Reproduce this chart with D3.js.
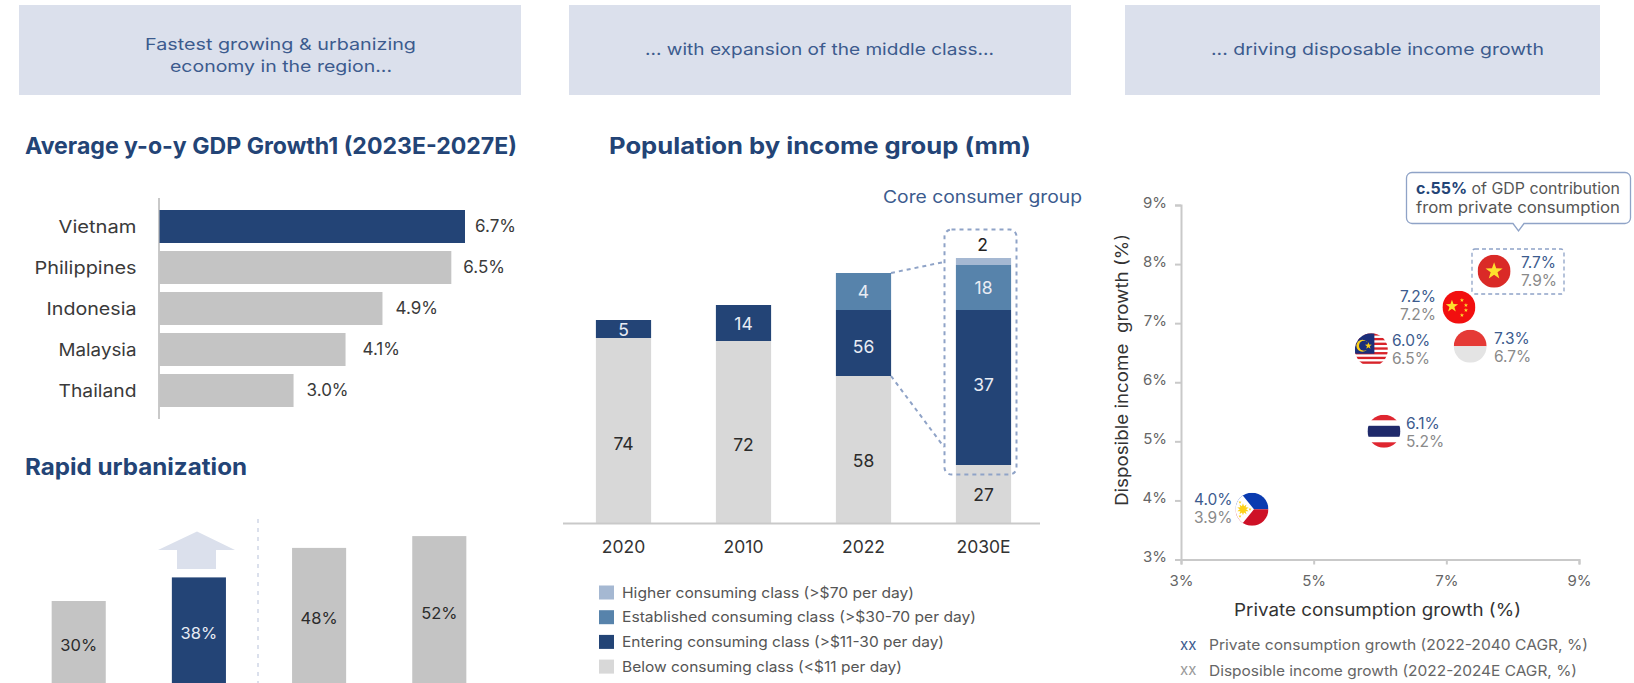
<!DOCTYPE html>
<html><head><meta charset="utf-8">
<script src="https://cdn.jsdelivr.net/npm/d3@7"></script>
<style>
html,body{margin:0;padding:0;background:#fff;overflow:hidden}
svg{display:block}
text{font-family:Inter,"Open Sans",sans-serif}
</style></head><body>
<svg id="c" width="1634" height="683"></svg>
<script>
// ---- data ----
const gdpCountries = ["Vietnam","Philippines","Indonesia","Malaysia","Thailand"];
const gdpLabels = ["6.7%","6.5%","4.9%","4.1%","3.0%"];
// bar lengths
const gdpValues = [6.7,6.4,4.89,4.08,2.94];
const urbanCategories = ["A","B","C","D"];
const urbanValues = [30,38,48,52];
const stackYears = ["2020","2010","2022","2030E"];
const stackKeys = ["below","entering","established","higher"];
const stackNames = ["Below consuming class (<$11 per day)","Entering consuming class (>$11-30 per day)","Established consuming class (>$30-70 per day)","Higher consuming class (>$70 per day)"];
// drawn heights (the source bars are not to scale with their labels)
const belowHeights = [74,72.8,58.8,23.2];
const enteringHeights = [7.2,14.4,26.4,62];
const establishedHeights = [0,0,14.8,18];
const higherHeights = [0,0,0,2.8];
const belowLabels = ["74","72","58","27"];
const enteringLabels = ["5","14","56","37"];
const establishedLabels = ["","","4","18"];
const countries = ["Vietnam","China","Malaysia","Indonesia","Thailand","Philippines"];
const consumptionLabels = ["7.7%","7.2%","6.0%","7.3%","6.1%","4.0%"];
const incomeLabels = ["7.9%","7.2%","6.5%","6.7%","5.2%","3.9%"];
const flagX = [7.72,7.19,5.87,7.36,6.06,4.07];
const flagY = [7.88,7.27,6.55,6.61,5.17,3.85];
const xTicks = [3,5,7,9];
const yTicks = [3,4,5,6,7,8,9];

// ---- styles / layout ----
const NAVY="#234476", GREY="#c4c4c4", LIGHT="#d8d8d8", MID="#5783ab", PALE="#a5b8d2", HDR="#dbe0ec",
      BLUE="#3c5b8e", DASH="#8fa3c7", AX="#c9c9c9", TXT="#3a3a3a";
const svg=d3.select("#c");
function T(x,y,s,o={}){
  const t=svg.append("text").attr("x",x).attr("y",y).attr("dy","0.35em").text(s)
    .attr("font-size",o.size||16).attr("fill",o.fill||TXT).attr("text-anchor",o.anchor||"start")
    .attr("font-weight",o.weight||400);
  if(o.w) t.attr("textLength",o.w).attr("lengthAdjust","spacingAndGlyphs");
  return t;
}
// headers
[[19,502],[569,502],[1125,475]].forEach(([x,w])=>svg.append("rect").attr("x",x).attr("y",5).attr("width",w).attr("height",90).attr("fill",HDR));
T(280.5,44,"Fastest growing & urbanizing",{anchor:"middle",fill:BLUE,size:16.5,w:271});
T(281,66,"economy in the region...",{anchor:"middle",fill:BLUE,size:16.5,w:222});
T(819.5,49,"... with expansion of the middle class...",{anchor:"middle",fill:BLUE,size:16.5,w:349});
T(1377.5,49,"... driving disposable income growth",{anchor:"middle",fill:BLUE,size:16.5,w:333});
// titles
T(25,145.5,"Average y-o-y GDP Growth1 (2023E-2027E)",{size:23,weight:700,fill:NAVY,w:492});
T(609,145.5,"Population by income group (mm)",{size:23,weight:700,fill:NAVY,w:422});
T(25,466.5,"Rapid urbanization",{size:23,weight:700,fill:NAVY,w:222});

// GDP bars
const gx=d3.scaleLinear().domain([0,6.7]).range([159.5,465]);
const gy=d3.scaleBand().domain(gdpCountries).range([206,411]).paddingInner(8/41).paddingOuter(4/41);
const nameWidths=[78,102,90,78,78];
const gaps=[10,12,13,17,13];
svg.append("line").attr("x1",159).attr("x2",159).attr("y1",198).attr("y2",419).attr("stroke",AX).attr("stroke-width",2);
gdpCountries.forEach((c,i)=>{
  svg.append("rect").attr("x",gx(0)).attr("y",gy(c)).attr("width",gx(gdpValues[i])-gx(0)).attr("height",gy.bandwidth()).attr("fill",i===0?NAVY:GREY);
  const yc=gy(c)+gy.bandwidth()/2;
  T(136.5,yc,c,{anchor:"end",size:17.5,w:nameWidths[i]});
  T(gx(gdpValues[i])+gaps[i],yc,gdpLabels[i],{size:17});
});

// Urbanization bars
const ux=d3.scaleBand().domain(urbanCategories).range([12,506]).paddingInner(0.55).paddingOuter(0.33);
const uy=d3.scaleLinear().domain([0,30]).range([689.5,601]);
urbanCategories.forEach((c,i)=>{
  const v=urbanValues[i];
  svg.append("rect").attr("x",ux(c)).attr("y",uy(v)).attr("width",ux.bandwidth()).attr("height",uy(0)-uy(v)).attr("fill",i===1?NAVY:GREY);
  T(ux(c)+ux.bandwidth()/2,(uy(v)+uy(0))/2,v+"%",{anchor:"middle",size:16.5,fill:i===1?"#e8ecf4":"#2b2b2b"});
});
svg.append("path").attr("d","M197,531.5L235,550H216V569H177V550H158Z").attr("fill",HDR);
svg.append("line").attr("x1",258).attr("x2",258).attr("y1",519).attr("y2",683).attr("stroke",HDR).attr("stroke-width",2).attr("stroke-dasharray","4 5");

// Stacked bars
const sx=d3.scaleBand().domain(stackYears).range([563.5,1043.5]).paddingInner(0.54).paddingOuter(0.27);
const sy=d3.scaleLinear().domain([0,100]).range([523,273]);
const stackRows=stackYears.map((y,i)=>({year:y,below:belowHeights[i],entering:enteringHeights[i],established:establishedHeights[i],higher:higherHeights[i]}));
const stackColors=d3.scaleOrdinal().domain(stackKeys).range([LIGHT,NAVY,MID,PALE]);
const layers=d3.stack().keys(stackKeys)(stackRows);
layers.forEach(l=>{
  svg.append("g").selectAll("rect").data(l).join("rect")
    .attr("x",d=>sx(d.data.year)).attr("width",sx.bandwidth())
    .attr("y",d=>sy(d[1])).attr("height",d=>sy(d[0])-sy(d[1])).attr("fill",stackColors(l.key));
});
const labelSets=[[belowLabels,[13,13,11,1],"#2b2b2b"],[enteringLabels,[1,1,4,-3],"#e8ecf4"],[establishedLabels,[0,0,0,0],"#e8ecf4"]];
labelSets.forEach(([labs,dy,fill],k)=>{
  layers[k].forEach((d,i)=>{ if(labs[i]) T(sx(d.data.year)+sx.bandwidth()/2,(sy(d[0])+sy(d[1]))/2+dy[i],labs[i],{anchor:"middle",size:17.5,fill}); });
});
T(982.5,245,"2",{anchor:"middle",size:17.5,fill:"#222"});
const sAxis=svg.append("g").attr("transform","translate(0,523)").call(d3.axisBottom(sx).tickSize(0).tickPadding(18));
sAxis.select(".domain").remove();
svg.append("line").attr("x1",563).attr("x2",1040).attr("y1",523.5).attr("y2",523.5).attr("stroke",AX).attr("stroke-width",2);
sAxis.selectAll("text").attr("font-size",17.5).attr("fill","#333").style("font-family","Inter");
T(883,197,"Core consumer group",{size:17,fill:BLUE,w:199});
svg.append("rect").attr("x",944.5).attr("y",229.5).attr("width",72).attr("height",245).attr("rx",7).attr("fill","none").attr("stroke",DASH).attr("stroke-width",2).attr("stroke-dasharray","4 4");
svg.append("line").attr("x1",891).attr("y1",273).attr("x2",944).attr("y2",262).attr("stroke",DASH).attr("stroke-width",2).attr("stroke-dasharray","4 4");
svg.append("line").attr("x1",891).attr("y1",376).attr("x2",944).attr("y2",447).attr("stroke",DASH).attr("stroke-width",2).attr("stroke-dasharray","4 4");
// stack legend
[3,2,1,0].forEach((k,i)=>{
  const y=592.5+i*24.7;
  svg.append("rect").attr("x",599).attr("y",y-7).attr("width",15).attr("height",14).attr("fill",stackColors(stackKeys[k]));
  T(622,y,stackNames[k],{size:14.5,fill:"#555",w:[292,354,322,280][i]});
});

// Scatter
const px=d3.scaleLinear().domain([3,9]).range([1181,1579]);
const py=d3.scaleLinear().domain([3,9]).range([559.5,205]);
const fmt=d=>d+"%";
const xa=svg.append("g").attr("transform","translate(0,559.5)").call(d3.axisBottom(px).tickValues(xTicks).tickFormat(fmt).tickSize(5).tickPadding(11));
const ya=svg.append("g").attr("transform","translate(1181,0)").call(d3.axisLeft(py).tickValues(yTicks).tickFormat(fmt).tickSize(6).tickPadding(8));
[xa,ya].forEach(a=>{
  a.select(".domain").attr("stroke",AX).attr("stroke-width",2);
  a.selectAll(".tick line").attr("stroke",AX).attr("stroke-width",2);
  a.selectAll("text").attr("font-size",15).attr("fill","#666").style("font-family","Inter");
});
ya.selectAll("text").attr("dy","0.15em");
T(1377.5,610,"Private consumption growth (%)",{anchor:"middle",size:17,fill:"#333",w:287});
T(0,0,"Disposible income  growth (%)",{anchor:"middle",size:17,fill:"#333",w:272}).attr("transform","translate(1122,370) rotate(-90)").style("white-space","pre");

// flags
const defs=svg.append("defs");
const R=16.5;
function star(cx,cy,r,fill,g,rot=0){
  const pts=d3.range(10).map(i=>{const a=-Math.PI/2+i*Math.PI/5+rot,q=i%2?r*0.4:r;return [cx+q*Math.cos(a),cy+q*Math.sin(a)];});
  g.append("polygon").attr("points",pts.map(p=>p.join(",")).join(" ")).attr("fill",fill);
}
function band(g,y,h,fill,x=-R,w=2*R){g.append("rect").attr("x",x).attr("y",y).attr("width",w).attr("height",h).attr("fill",fill);}
const flagDraw={
  Vietnam(g){band(g,-R,2*R,"#da2a27");star(0,0,9,"#fde12d",g);},
  China(g){band(g,-R,2*R,"#f20f0f");star(-7,-1,6.5,"#fde12d",g);[[3,-7],[7,-2],[7,3],[3,8]].forEach(p=>star(p[0],p[1],2.2,"#fde12d",g));},
  Malaysia(g){band(g,-R,2*R,"#fff");d3.range(7).forEach(i=>band(g,-R+i*4.7,2.35,"#d8232a"));band(g,-R,R+4,"#1c2f7a",-R,R+3);
    g.append("circle").attr("cx",-9).attr("cy",-4).attr("r",6).attr("fill","#fdd017");g.append("circle").attr("cx",-7.4).attr("cy",-4).attr("r",5).attr("fill","#1c2f7a");star(-3,-4,3.6,"#fdd017",g);},
  Indonesia(g){band(g,-R,R,"#e53a36");band(g,0,R,"#e4e4e4");},
  Thailand(g){band(g,-R,2*R,"#fff");band(g,-R,5.5,"#df2630");band(g,R-5.5,5.5,"#df2630");band(g,-5.5,11,"#1f2a6b");},
  Philippines(g){band(g,-R,R,"#0a3bb0");band(g,0,R,"#ce1126");g.append("path").attr("d","M-17,-16.5L-11,-16L2,0L-11,16L-17,16.5Z").attr("fill","#fff");
    star(-9,0,6,"#fcd116",g);star(-9,0,6,"#fcd116",g,Math.PI/5);[[-12,-7],[-12,7],[-2,0]].forEach(p=>star(p[0],p[1],1.6,"#fcd116",g));}
};
const labX=[1521,1436,1392,1494,1406,1194];
const labY=[263,297,341,339,424,500];
const labAnchor=["start","end","start","start","start","start"];
countries.forEach((c,i)=>{
  const cx=px(flagX[i]),cy=py(flagY[i]);
  defs.append("clipPath").attr("id","cp"+i).append("circle").attr("r",R);
  const g=svg.append("g").attr("transform",`translate(${cx},${cy})`).attr("clip-path",`url(#cp${i})`);
  flagDraw[c](g);
  T(labX[i],labY[i],consumptionLabels[i],{size:15.5,fill:BLUE,anchor:labAnchor[i]});
  T(labX[i],labY[i]+18,incomeLabels[i],{size:15.5,fill:"#8a8a8a",anchor:labAnchor[i]});
});
// Vietnam dashed box and callout
svg.append("rect").attr("x",1472).attr("y",249).attr("width",92).attr("height",45).attr("rx",3).attr("fill","none").attr("stroke",DASH).attr("stroke-width",1.3).attr("stroke-dasharray","4 3");
svg.append("path").attr("d","M1412,172.5H1625a5.5,5.5 0 0 1 5.5,5.5V218a5.5,5.5 0 0 1 -5.5,5.5H1524L1518.5,231L1513,223.5H1412a5.5,5.5 0 0 1 -5.5,-5.5V178a5.5,5.5 0 0 1 5.5,-5.5Z").attr("fill","#fff").attr("stroke",DASH).attr("stroke-width",1.3);
const c1=T(1416,189,"",{size:15.5,fill:"#555",w:204});
c1.append("tspan").text("c.55%").attr("font-weight",700).attr("fill",NAVY);
c1.append("tspan").text(" of GDP contribution");
T(1416,208,"from private consumption",{size:15.5,fill:"#555",w:204});
// scatter legend
T(1180,645,"xx",{size:15,fill:BLUE});
T(1209,645,"Private consumption growth (2022-2040 CAGR, %)",{size:14.5,fill:"#666",w:379});
T(1180,670,"xx",{size:15,fill:"#999"});
T(1209,671,"Disposible income growth (2022-2024E CAGR, %)",{size:14.5,fill:"#666",w:368});
</script></body></html>
